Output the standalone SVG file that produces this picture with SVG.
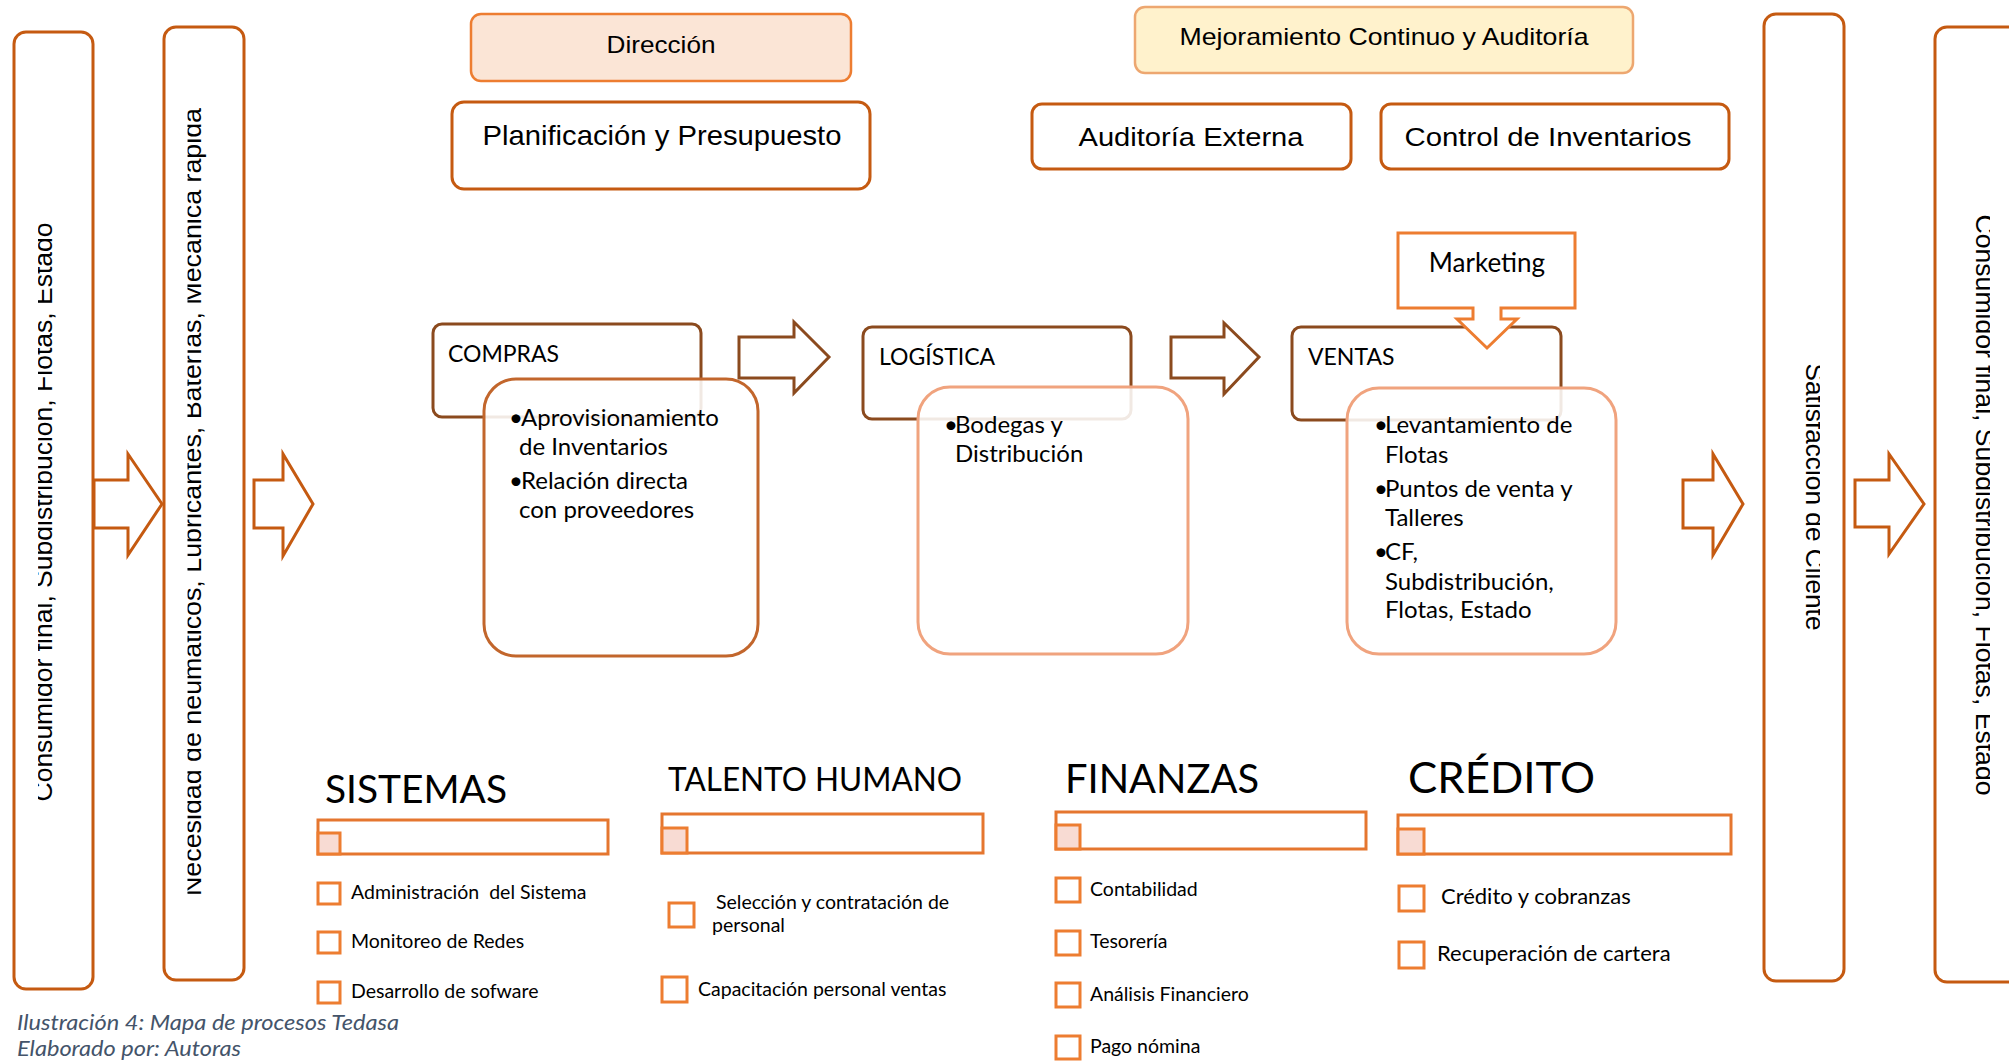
<svg xmlns="http://www.w3.org/2000/svg" width="2009" height="1061" viewBox="0 0 2009 1061">
  <style>
    .side { fill: #ffffff; stroke: #C55A11; stroke-width: 3; }
    .blk { fill: #ffffff; stroke: #C55A11; stroke-width: 3; }
    .brn { fill: #ffffff; stroke: #8B4A1E; stroke-width: 3; }
    .top { fill: #ffffff; stroke: #C55A11; stroke-width: 3; }
    .back { fill: #ffffff; stroke: #8B4A1E; stroke-width: 3; }
    .card1 { fill: #ffffff; fill-opacity: 0.88; stroke: #C2662C; stroke-width: 3; }
    .card2 { fill: #ffffff; fill-opacity: 0.88; stroke: #F0A37E; stroke-width: 3; }
    .bar { fill: none; stroke: #E5762F; stroke-width: 3; }
    .sq { fill: #F8DBD3; stroke: #ED7D31; stroke-width: 3; }
    .chk { fill: #ffffff; stroke: #ED7D31; stroke-width: 3; }
    .arial { font-family: "Liberation Sans", Arial, sans-serif; fill: #000000; }
    .cal { font-family: Lato, "Noto Sans", sans-serif; fill: #000000; }
    .rot { font-family: "Liberation Sans", Arial, sans-serif; font-size: 26.7px; fill: #000000; }
    .item { font-family: Lato, "Noto Sans", sans-serif; font-size: 19.5px; fill: #000000; }
    .item2 { font-family: Lato, "Noto Sans", sans-serif; font-size: 22px; fill: #000000; }
    .body { font-family: Lato, "Noto Sans", sans-serif; font-size: 24px; fill: #000000; }
    .cap { font-family: Lato, "Noto Sans", sans-serif; font-style: italic; font-size: 21px; fill: #44546A; }
  </style>
  <defs>
    <clipPath id="clipA"><rect x="38" y="150" width="26" height="760"/></clipPath>
    <clipPath id="clipB"><rect x="187.5" y="60" width="24" height="880"/></clipPath>
    <clipPath id="clipC"><rect x="1795" y="300" width="25" height="400"/></clipPath>
    <clipPath id="clipD"><rect x="1965" y="150" width="25" height="720"/></clipPath>
  </defs>
  <rect width="2009" height="1061" fill="#ffffff"/>

  <!-- vertical side columns -->
  <g id="consumidor-in">
    <rect class="side" x="14" y="32" width="79" height="957" rx="12"/>
    <g clip-path="url(#clipA)">
      <text class="rot" transform="translate(52,512) rotate(-90)" text-anchor="middle" textLength="579" lengthAdjust="spacingAndGlyphs">Consumidor final, Subdistribución, Flotas, Estado</text>
    </g>
  </g>
  <g id="necesidad">
    <rect class="side" x="164" y="27" width="80" height="953" rx="12"/>
    <g clip-path="url(#clipB)">
      <text class="rot" transform="translate(201,502) rotate(-90)" text-anchor="middle" textLength="788" lengthAdjust="spacingAndGlyphs">Necesidad de neumáticos, Lubricantes, Baterías, Mecánica rápida</text>
    </g>
  </g>
  <g id="satisfaccion">
    <rect class="side" x="1764" y="14" width="80" height="967" rx="12"/>
    <g clip-path="url(#clipC)">
      <text class="rot" transform="translate(1806,497) rotate(90)" text-anchor="middle" textLength="267" lengthAdjust="spacingAndGlyphs">Satisfacción de Cliente</text>
    </g>
  </g>
  <g id="consumidor-out">
    <rect class="side" x="1935" y="27" width="110" height="955" rx="12"/>
    <g clip-path="url(#clipD)">
      <text class="rot" transform="translate(1976,505) rotate(90)" text-anchor="middle" textLength="581" lengthAdjust="spacingAndGlyphs">Consumidor final, Subdistribución, Flotas, Estado</text>
    </g>
  </g>

  <!-- block arrows -->
  <g id="connectors">
    <path class="blk" d="M94,480 H128 V454 L162,504 L128,555 V528 H94 Z"/>
    <path class="blk" d="M254,480 H283 V454 L313,504 L283,556 V528 H254 Z"/>
    <path class="blk" d="M1683,480 H1713 V454 L1743,504 L1713,555 V528 H1683 Z"/>
    <path class="blk" d="M1855,480 H1889 V454 L1924,504 L1889,554 V527 H1855 Z"/>
    <path class="brn" d="M739,337 H794 V322 L829,357 L794,393 V378 H739 Z"/>
    <path class="brn" d="M1171,337 H1224 V323 L1259,357 L1224,394 V378 H1171 Z"/>
  </g>

  <!-- strategic row -->
  <g id="direccion">
    <rect x="471" y="14" width="380" height="67" rx="10" fill="#FBE5D6" stroke="#ED7D31" stroke-width="2.5"/>
    <text class="arial" x="661" y="53" font-size="24" text-anchor="middle" textLength="109" lengthAdjust="spacingAndGlyphs">Dirección</text>
  </g>
  <g id="planificacion">
    <rect class="top" x="452" y="102" width="418" height="87" rx="12"/>
    <text class="arial" x="662" y="145" font-size="28" text-anchor="middle" textLength="359" lengthAdjust="spacingAndGlyphs">Planificación y Presupuesto</text>
  </g>
  <g id="mejoramiento">
    <rect x="1135" y="7" width="498" height="66" rx="10" fill="#FFF2CC" stroke="#EDA770" stroke-width="2.5"/>
    <text class="arial" x="1384" y="45" font-size="24" text-anchor="middle" textLength="409" lengthAdjust="spacingAndGlyphs">Mejoramiento Continuo y Auditoría</text>
  </g>
  <g id="auditoria">
    <rect class="top" x="1032" y="104" width="319" height="65" rx="10"/>
    <text class="arial" x="1191" y="146" font-size="25.5" text-anchor="middle" textLength="225" lengthAdjust="spacingAndGlyphs">Auditoría Externa</text>
  </g>
  <g id="control">
    <rect class="top" x="1381" y="104" width="348" height="65" rx="10"/>
    <text class="arial" x="1548" y="146" font-size="25.5" text-anchor="middle" textLength="287" lengthAdjust="spacingAndGlyphs">Control de Inventarios</text>
  </g>

  <!-- core process chain -->
  <g id="compras">
    <rect class="back" x="433" y="324" width="268" height="93" rx="9"/>
    <text class="cal" x="448" y="362" font-size="23">COMPRAS</text>
    <rect class="card1" x="484" y="379" width="274" height="277" rx="32"/>
    <text class="body"><tspan x="509" y="426">•</tspan><tspan x="521" y="426">Aprovisionamiento</tspan></text>
    <text class="body" x="519" y="455">de Inventarios</text>
    <text class="body"><tspan x="509" y="489">•</tspan><tspan x="521" y="489">Relación directa</tspan></text>
    <text class="body" x="519" y="518">con proveedores</text>
  </g>
  <g id="logistica">
    <rect class="back" x="863" y="327" width="268" height="92" rx="9"/>
    <text class="cal" x="879" y="365" font-size="23">LOGÍSTICA</text>
    <rect class="card2" x="918" y="387" width="270" height="267" rx="32"/>
    <text class="body"><tspan x="944" y="433">•</tspan><tspan x="955" y="433">Bodegas y</tspan></text>
    <text class="body" x="955" y="462">Distribución</text>
  </g>
  <g id="ventas">
    <rect class="back" x="1292" y="327" width="269" height="93" rx="9"/>
    <text class="cal" x="1308" y="365" font-size="23">VENTAS</text>
    <rect class="card2" x="1347" y="388" width="269" height="266" rx="32"/>
    <text class="body"><tspan x="1374" y="433">•</tspan><tspan x="1385" y="433">Levantamiento de</tspan></text>
    <text class="body" x="1385" y="463">Flotas</text>
    <text class="body"><tspan x="1374" y="497">•</tspan><tspan x="1385" y="497">Puntos de venta y</tspan></text>
    <text class="body" x="1385" y="526">Talleres</text>
    <text class="body"><tspan x="1374" y="560">•</tspan><tspan x="1385" y="560">CF,</tspan></text>
    <text class="body" x="1385" y="590">Subdistribución,</text>
    <text class="body" x="1385" y="618">Flotas, Estado</text>
  </g>
  <g id="marketing">
    <path d="M1398,233 H1575 V308 H1501 V319 H1517 L1487,348 L1457,319 H1473 V308 H1398 Z" fill="#ffffff" stroke="#ED7D31" stroke-width="3"/>
    <text class="cal" x="1487" y="272" font-size="26" text-anchor="middle">Marketing</text>
  </g>

  <!-- support functions -->
  <g id="sistemas">
    <text class="cal" x="325" y="803" font-size="39" textLength="182" lengthAdjust="spacingAndGlyphs">SISTEMAS</text>
    <rect class="bar" x="318" y="820" width="290" height="34"/>
    <rect class="sq" x="318" y="833" width="22" height="21"/>
    <rect class="chk" x="318" y="883" width="22" height="21"/>
    <text class="item" x="351" y="899" xml:space="preserve">Administración  del Sistema</text>
    <rect class="chk" x="318" y="932" width="22" height="21"/>
    <text class="item" x="351" y="948">Monitoreo de Redes</text>
    <rect class="chk" x="318" y="982" width="22" height="21"/>
    <text class="item" x="351" y="998">Desarrollo de sofware</text>
  </g>
  <g id="talento-humano">
    <text class="cal" x="668" y="791" font-size="32" textLength="294" lengthAdjust="spacingAndGlyphs">TALENTO HUMANO</text>
    <rect class="bar" x="662" y="814" width="321" height="39"/>
    <rect class="sq" x="662" y="828" width="25" height="25"/>
    <rect class="chk" x="669" y="903" width="25" height="24"/>
    <text class="item" x="716" y="909">Selección y contratación de</text>
    <text class="item" x="712" y="932">personal</text>
    <rect class="chk" x="662" y="977" width="25" height="25"/>
    <text class="item" x="698" y="996">Capacitación personal ventas</text>
  </g>
  <g id="finanzas">
    <text class="cal" x="1065" y="793" font-size="40" textLength="194" lengthAdjust="spacingAndGlyphs">FINANZAS</text>
    <rect class="bar" x="1056" y="812" width="310" height="37"/>
    <rect class="sq" x="1056" y="825" width="24" height="24"/>
    <rect class="chk" x="1056" y="878" width="24" height="24"/>
    <text class="item" x="1090" y="896">Contabilidad</text>
    <rect class="chk" x="1056" y="931" width="24" height="24"/>
    <text class="item" x="1090" y="948">Tesorería</text>
    <rect class="chk" x="1056" y="983" width="24" height="24"/>
    <text class="item" x="1090" y="1001">Análisis Financiero</text>
    <rect class="chk" x="1056" y="1036" width="24" height="23"/>
    <text class="item" x="1090" y="1053">Pago nómina</text>
  </g>
  <g id="credito">
    <text class="cal" x="1408" y="793" font-size="42" textLength="187" lengthAdjust="spacingAndGlyphs">CRÉDITO</text>
    <rect class="bar" x="1398" y="815" width="333" height="39"/>
    <rect class="sq" x="1398" y="829" width="26" height="25"/>
    <rect class="chk" x="1399" y="886" width="25" height="25"/>
    <text class="item2" x="1441" y="904">Crédito y cobranzas</text>
    <rect class="chk" x="1399" y="942" width="25" height="26"/>
    <text class="item2" x="1437" y="961">Recuperación de cartera</text>
  </g>

  <!-- figure caption -->
  <g id="caption">
    <text class="cap" x="17" y="1030" textLength="382" lengthAdjust="spacingAndGlyphs">Ilustración 4: Mapa de procesos Tedasa</text>
    <text class="cap" x="17" y="1056" textLength="224" lengthAdjust="spacingAndGlyphs">Elaborado por: Autoras</text>
  </g>
</svg>
